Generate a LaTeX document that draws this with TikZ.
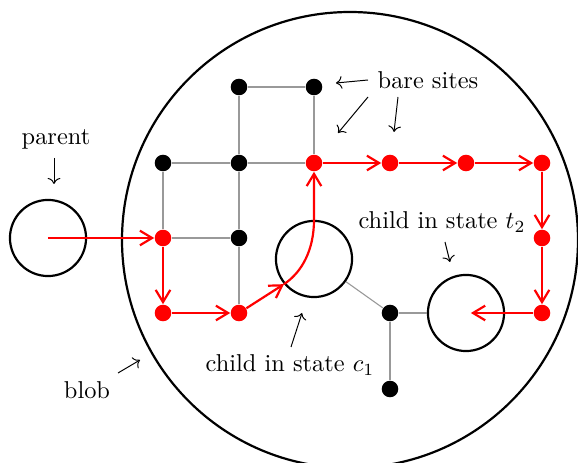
\documentclass[tikz,border=0pt]{standalone}
\usetikzlibrary{arrows.meta}
\begin{document}
\begin{tikzpicture}[x=0.41pt,y=-0.41pt,
  dotb/.style={circle,fill=black,inner sep=0pt,minimum size=6.8pt},
  dotr/.style={circle,fill=red,inner sep=0pt,minimum size=6.8pt},
  ring/.style={circle,draw,line width=0.9pt,inner sep=0pt,minimum size=31.2pt},
  gridline/.style={draw=black!40,line width=0.45pt},
  redarrow/.style={draw=red,line width=0.9pt,-{Straight Barb[length=5pt,width=6pt]}},
  labarrow/.style={->,line width=0.4pt}
]
\useasboundingbox (0,0) rectangle (578,463);
% blob
\draw[line width=0.9pt] (350,240) circle[radius=228];
% sites
\node[dotb] (d21) at (239,87) {};
\node[dotb] (d31) at (314,87) {};
\node[dotb] (d12) at (163,163) {};
\node[dotb] (d22) at (239,163) {};
\node[dotr] (d32) at (314,163) {};
\node[dotr] (d42) at (390,163) {};
\node[dotr] (d52) at (466,163) {};
\node[dotr] (d62) at (542,163) {};
\node[dotr] (d13) at (163,238) {};
\node[dotb] (d23) at (239,238) {};
\node[dotr] (d63) at (542,238) {};
\node[dotr] (d14) at (163,313) {};
\node[dotr] (d24) at (239,313) {};
\node[dotb] (d44) at (390,313) {};
\node[dotr] (d64) at (542,313) {};
\node[dotb] (d45) at (390,389) {};
% circles
\node[ring] (parent) at (48,238) {};
\node[ring] (c1) at (314,259) {};
\node[ring] (t2) at (466,313) {};
% grey bonds
\draw[gridline] (d21) -- (d31);
\draw[gridline] (d21) -- (d22);
\draw[gridline] (d31) -- (d32);
\draw[gridline] (d12) -- (d22);
\draw[gridline] (d22) -- (d32);
\draw[gridline] (d12) -- (d13);
\draw[gridline] (d22) -- (d23);
\draw[gridline] (d23) -- (d24);
\draw[gridline] (d13) -- (d23);
\draw[gridline] (c1) -- (d44);
\draw[gridline] (d44) -- (t2);
\draw[gridline] (d44) -- (d45);
% red path
\draw[redarrow] (parent.center) -- (d13);
\draw[redarrow] (d13) -- (d14);
\draw[redarrow] (d14) -- (d24);
\draw[redarrow] (d24) -- (c1.220);
\draw[redarrow] (c1.220) .. controls +(18,-12) and +(0,30) .. (c1.north) -- (d32);
\draw[redarrow] (d32) -- (d42);
\draw[redarrow] (d42) -- (d52);
\draw[redarrow] (d52) -- (d62);
\draw[redarrow] (d62) -- (d63);
\draw[redarrow] (d63) -- (d64);
\draw[redarrow,shorten >=2pt] (d64) -- (t2.center);
% labels
\node (parentlab) at (56,139) {parent};
\coordinate (pa1) at (54,158); \coordinate (pa2) at (54,184);
\draw[labarrow] (pa1) -- (pa2);
\node (bare) at (428,80) {bare sites};
\coordinate (ba1) at (368,80); \coordinate (ba2) at (336,83);
\coordinate (bb1) at (368,97); \coordinate (bb2) at (338,133);
\coordinate (bc1) at (398,97); \coordinate (bc2) at (394,132);
\draw[labarrow] (ba1) -- (ba2);
\draw[labarrow] (bb1) -- (bb2);
\draw[labarrow] (bc1) -- (bc2);
\node (t2lab) at (442,222) {child in state $t_2$};
\coordinate (ta1) at (445,242); \coordinate (ta2) at (450,262);
\draw[labarrow] (ta1) -- (ta2);
\node (c1lab) at (290,365) {child in state $c_1$};
\coordinate (ca1) at (291,347); \coordinate (ca2) at (302,313);
\draw[labarrow] (ca1) -- (ca2);
\node (bloblab) at (87,390) {blob};
\coordinate (bl1) at (118,373); \coordinate (bl2) at (140,360);
\draw[labarrow] (bl1) -- (bl2);
\end{tikzpicture}
\end{document}
